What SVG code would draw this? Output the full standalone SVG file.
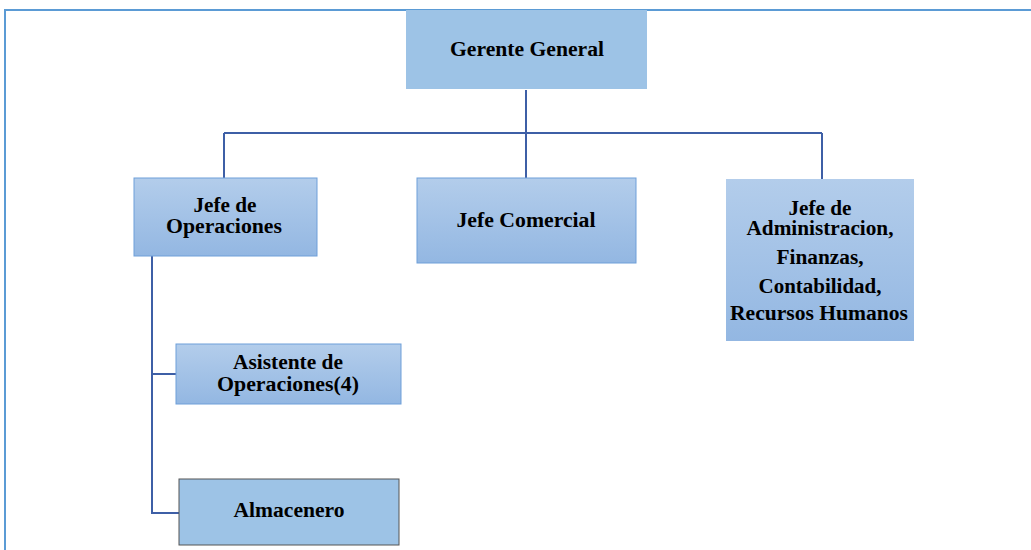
<svg xmlns="http://www.w3.org/2000/svg" width="1031" height="550" viewBox="0 0 1031 550">
<defs>
<linearGradient id="g" x1="0" y1="0" x2="0" y2="1">
<stop offset="0" stop-color="#B3CDEB"/>
<stop offset="1" stop-color="#93B7E2"/>
</linearGradient>
<style>
.box{fill:url(#g);stroke:#6E9FD9;stroke-width:1}
.t{font-family:"Liberation Serif","Times New Roman",serif;font-weight:bold;font-size:20px;fill:#000;text-anchor:middle}
.c{fill:none;stroke:#3E5FA6;stroke-width:2}
</style>
</defs>
<rect width="1031" height="550" fill="#fff"/>
<path d="M5,560 V10 H1040" fill="none" stroke="#5B9BD5" stroke-width="2"/>
<g id="connectors" class="c">
<path d="M526,90 V133 M224,133 H822 M224,133 V178 M526,133 V178 M822,133 V179"/>
<path d="M152,256 V513 H179 M152,374 H176"/>
</g>
<g id="gerente">
<rect x="406" y="10" width="241" height="79" fill="#9DC3E6"/>
<text class="t" x="527" y="56" textLength="154" lengthAdjust="spacingAndGlyphs">Gerente General</text>
</g>
<g id="jefe-operaciones">
<rect class="box" x="134" y="178" width="183" height="78"/>
<text class="t" x="225" y="212" textLength="63" lengthAdjust="spacingAndGlyphs">Jefe de</text>
<text class="t" x="224" y="233" textLength="116" lengthAdjust="spacingAndGlyphs">Operaciones</text>
</g>
<g id="jefe-comercial">
<rect class="box" x="417" y="178" width="219" height="85"/>
<text class="t" x="526" y="227" textLength="139" lengthAdjust="spacingAndGlyphs">Jefe Comercial</text>
</g>
<g id="jefe-administracion">
<rect x="726" y="179" width="188" height="162" fill="url(#g)"/>
<text class="t" x="820" y="215" textLength="63" lengthAdjust="spacingAndGlyphs">Jefe de</text>
<text class="t" x="820" y="235" textLength="147" lengthAdjust="spacingAndGlyphs">Administracion,</text>
<text class="t" x="820" y="264" textLength="87" lengthAdjust="spacingAndGlyphs">Finanzas,</text>
<text class="t" x="820" y="293" textLength="123" lengthAdjust="spacingAndGlyphs">Contabilidad,</text>
<text class="t" x="819" y="320" textLength="178" lengthAdjust="spacingAndGlyphs">Recursos Humanos</text>
</g>
<g id="asistente">
<rect class="box" x="176" y="344" width="225" height="60"/>
<text class="t" x="288" y="369" textLength="110" lengthAdjust="spacingAndGlyphs">Asistente de</text>
<text class="t" x="288" y="391" textLength="142" lengthAdjust="spacingAndGlyphs">Operaciones(4)</text>
</g>
<g id="almacenero">
<rect x="179" y="479" width="220" height="66" fill="#9DC3E6" stroke="#555" stroke-width="1"/>
<text class="t" x="289" y="517" textLength="111" lengthAdjust="spacingAndGlyphs">Almacenero</text>
</g>
</svg>
